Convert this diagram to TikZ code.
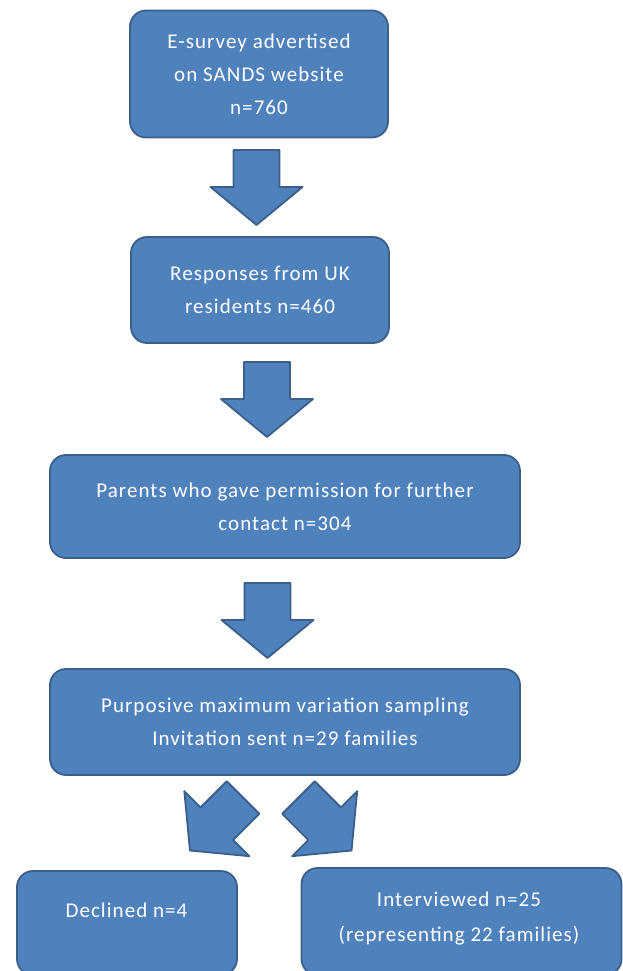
\documentclass[tikz,border=0pt]{standalone}
\usepackage{fontspec}
\setmainfont{Carlito}[LetterSpace=5]
\usetikzlibrary{calc}
\definecolor{boxfill}{HTML}{4F81BD}
\definecolor{boxline}{HTML}{3A5F8B}
\begin{document}
\begin{tikzpicture}[x=1pt,y=-1pt,
  box/.style={draw=boxline, line width=1.8pt, fill=boxfill, rounded corners=16pt,
    text=white, align=center, font=\fontsize{21}{33}\selectfont, inner sep=0pt},
  lbl/.style={text=white, align=center, font=\fontsize{21}{35}\selectfont, inner sep=0pt},
  arr/.style={draw=boxline, line width=1.8pt, fill=boxfill, line join=round},
  pics/barrow/.style={code={\draw[arr] (0,23) -- (37,23) -- (37,46) -- (75,0)
      -- (37,-46) -- (37,-23) -- (0,-23) -- cycle;}}]
\useasboundingbox (0,0) rectangle (623,971);
% boxes
\node[box, minimum width=258pt, minimum height=127pt] (b1) at (259,74)
  {E-survey advertised\\on SANDS website\\n=760};
\node[box, minimum width=258pt, minimum height=106pt] (b2) at (260,290)
  {Responses from UK\\residents n=460};
\node[box, minimum width=470pt, minimum height=103pt] (b3) at (285,506.5)
  {Parents who gave permission for further\\contact n=304};
\node[box, minimum width=470pt, minimum height=106pt] (b4) at (285,722)
  {Purposive maximum variation sampling\\Invitation sent n=29 families};
\node[box, minimum width=220pt, minimum height=104pt] (b5) at (127,923) {};
\node[lbl] (t5) at (126.5,910) {Declined n=4};
\node[box, minimum width=320pt, minimum height=107pt] (b6) at (461.5,921.5) {};
\node[lbl] (t6) at (459,918.5) {Interviewed n=25\\(representing 22 families)};
% block arrows
\coordinate (a1) at (256.5,150);
\coordinate (a2) at (267,362);
\coordinate (a3) at (267.5,583);
\coordinate (a4) at (243,797.5);
\coordinate (a5) at (298.5,797.5);
\pic[rotate=-90] at (a1) {barrow};
\pic[rotate=-90] at (a2) {barrow};
\pic[rotate=-90] at (a3) {barrow};
\pic[rotate=225] at (a4) {barrow};
\pic[rotate=-45] at (a5) {barrow};
\end{tikzpicture}
\end{document}
